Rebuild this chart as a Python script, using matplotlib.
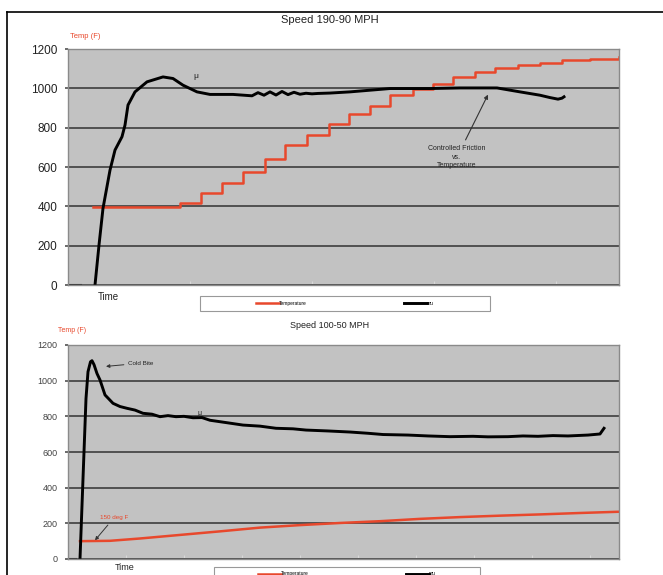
import numpy as np
import matplotlib
matplotlib.use("Agg")
import matplotlib.pyplot as plt
from matplotlib.lines import Line2D
from matplotlib.patches import Rectangle

plt.rcParams['font.family'] = ['Liberation Sans', 'DejaVu Sans']

# ---------------- data ----------------
yticks = [0, 200, 400, 600, 800, 1000, 1200]

# Top chart: Speed 190-90 MPH
top_title = "Speed 190-90 MPH"
top_pre_x = [0, 13]
top_pre_y = [0, 0]
top_mu_x = [27, 31, 35, 42, 47, 54, 57, 60, 67, 79, 95, 105, 115, 129, 142, 165, 184,
            190, 196, 202, 208, 214, 220, 226, 232, 238, 244, 250, 262, 282, 322, 362,
            392, 429, 452, 472, 482, 490, 494, 496]
top_mu_y = [0, 203, 390, 584, 686, 754, 813, 915, 982, 1033, 1058, 1050, 1016, 982, 969, 969, 962,
            978, 965, 982, 966, 984, 968, 980, 970, 975, 972, 974, 976, 982, 999, 999,
            1002, 1002, 982, 965, 953, 945, 950, 957]
top_temp_x = [25, 112, 133, 154, 175, 197, 217, 239, 261, 281, 302, 322, 345, 365, 385, 407,
              427, 450, 472, 494, 522, 551]
top_temp_y = [395, 418, 467, 518, 576, 643, 711, 765, 821, 868, 911, 965, 999, 1020, 1058, 1084,
              1104, 1121, 1130, 1143, 1150, 1160]

# Bottom chart: Speed 100-50 MPH
bot_title = "Speed 100-50 MPH"
bot_pre_x = [0, 8]
bot_pre_y = [0, 0]
bot_mu_x = [12, 14, 16, 18, 20, 22.5, 24, 26, 29, 32, 37, 45, 52, 59, 67, 75, 84, 92, 100, 108,
            116, 125, 134, 142, 158, 175, 192, 208, 225, 238, 260, 282, 300, 315, 340, 360, 382,
            405, 420, 440, 455, 470, 485, 500, 520, 532, 536]
bot_mu_y = [0, 300, 600, 900, 1050, 1106, 1112, 1090, 1040, 1004, 920, 873, 855, 845, 835, 817,
            812, 798, 804, 798, 800, 792, 793, 778, 765, 751, 745, 733, 730, 723, 718, 712, 705,
            698, 695, 690, 686, 688, 685, 686, 690, 688, 692, 690, 695, 701, 733]
bot_temp_x = [12, 42, 72, 112, 152, 192, 232, 272, 312, 352, 392, 432, 472, 512, 551]
bot_temp_y = [100, 102, 115, 135, 155, 176, 190, 202, 212, 225, 235, 243, 250, 258, 265]

legend_labels = ["Temperature", "mu"]

RED = '#e8482c'
BG = '#c2c2c2'
GRID = '#505050'

W, H = 663, 575
fig = plt.figure(figsize=(W / 100, H / 100), dpi=100)

def fx(px):
    return px / W

def fy(py):
    return 1 - py / H

def style_axes(ax, xtick_step, labelsize, labelcolor):
    ax.set_facecolor(BG)
    ax.set_xlim(0, 551)
    ax.set_ylim(0, 1200)
    ax.set_yticks(yticks)
    ax.set_yticklabels([str(v) for v in yticks])
    ax.set_xticks(np.arange(0, 552, xtick_step))
    ax.set_xticklabels([])
    ax.tick_params(axis='y', length=2.5, width=1.2, color=GRID, pad=5,
                   labelsize=labelsize, labelcolor=labelcolor)
    ax.tick_params(axis='x', length=3, width=0.8, color='#d8d8d8', direction='in')
    ax.grid(axis='y', color=GRID, linewidth=1.4)
    ax.set_axisbelow(True)
    for s in ['top', 'right', 'bottom', 'left']:
        ax.spines[s].set_color('#8a8a8a')
        ax.spines[s].set_linewidth(1.0)

def legend_box(ax, x0, y0, w, h, cx, cy):
    ax.add_patch(Rectangle((x0, y0), w, h, transform=ax.transAxes, facecolor='white',
                           edgecolor='#999999', lw=0.8, clip_on=False, zorder=5))
    leg = ax.legend(loc='center', bbox_to_anchor=(cx, cy), ncol=2, fontsize=3.5, frameon=False,
                    handlelength=4.7, handletextpad=0.05, columnspacing=20)
    leg.set_zorder(6)
    return leg

# ---- top axes ----
ax1 = fig.add_axes([fx(68), fy(285), fx(619) - fx(68), fy(49) - fy(285)])
style_axes(ax1, 122, 8.5, '#222222')
ax1.plot(top_temp_x, top_temp_y, color=RED, lw=1.8, drawstyle='steps-post', label=legend_labels[0])
ax1.plot(top_mu_x, top_mu_y, color='black', lw=2.1, label=legend_labels[1])
ax1.plot(top_pre_x, top_pre_y, color='#333333', lw=1.5)
ax1.text(128, 1060, "μ", fontsize=6, color='#222222', ha='center', va='center')
ax1.annotate("Controlled Friction\nvs.\nTemperature", xy=(420, 968), xytext=(389, 650),
             fontsize=5, ha='center', va='center', color='#222222', linespacing=1.3,
             arrowprops=dict(arrowstyle='-|>', color='#333333', lw=0.8, mutation_scale=6,
                             shrinkA=2, shrinkB=0))
legend_box(ax1, 0.2396, -0.110, 0.5264, 0.0636, 0.5027, -0.078)

# ---- bottom axes ----
ax2 = fig.add_axes([fx(68), fy(559), fx(619) - fx(68), fy(345) - fy(559)])
style_axes(ax2, 58, 6.5, '#444444')
ax2.plot(bot_temp_x, bot_temp_y, color=RED, lw=1.8, label=legend_labels[0])
ax2.plot(bot_mu_x, bot_mu_y, color='black', lw=2.1, label=legend_labels[1])
ax2.plot(bot_pre_x, bot_pre_y, color='#333333', lw=1.5)
ax2.text(132, 815, "μ", fontsize=5, color='#222222', ha='center', va='center')
ax2.annotate("Cold Bite", xy=(38, 1080), xytext=(60, 1098), fontsize=4.5, ha='left', va='center',
             color='#222222',
             arrowprops=dict(arrowstyle='-|>', color='#333333', lw=0.7, mutation_scale=5,
                             shrinkA=1, shrinkB=0))
ax2.annotate("150 deg F", xy=(27, 105), xytext=(32, 232), fontsize=4.5, ha='left', va='center',
             color=RED,
             arrowprops=dict(arrowstyle='-|>', color='#333333', lw=0.7, mutation_scale=5,
                             shrinkA=2, shrinkB=0))
legend_box(ax2, 0.265, -0.107, 0.483, 0.070, 0.506, -0.070)

# ---- figure texts ----
fig.text(fx(330), fy(20), top_title, fontsize=8, ha='center', va='center', color='#222222')
fig.text(fx(85), fy(36), "Temp (F)", fontsize=5.5, ha='center', va='center', color=RED)
fig.text(fx(108), fy(297), "Time", fontsize=7, ha='center', va='center', color='#222222')
fig.text(fx(330), fy(325), bot_title, fontsize=6.5, ha='center', va='center', color='#222222')
fig.text(fx(72), fy(331), "Temp (F)", fontsize=5, ha='center', va='center', color=RED)
fig.text(fx(125), fy(568), "Time", fontsize=6.5, ha='center', va='center', color='#222222')

# outer frame
fig.add_artist(Line2D([fx(7), fx(7)], [fy(12), 0], color='black', lw=1.2, transform=fig.transFigure))
fig.add_artist(Line2D([fx(7), 1.0], [fy(12), fy(12)], color='black', lw=1.2, transform=fig.transFigure))

fig.savefig("out.png", dpi=100)
